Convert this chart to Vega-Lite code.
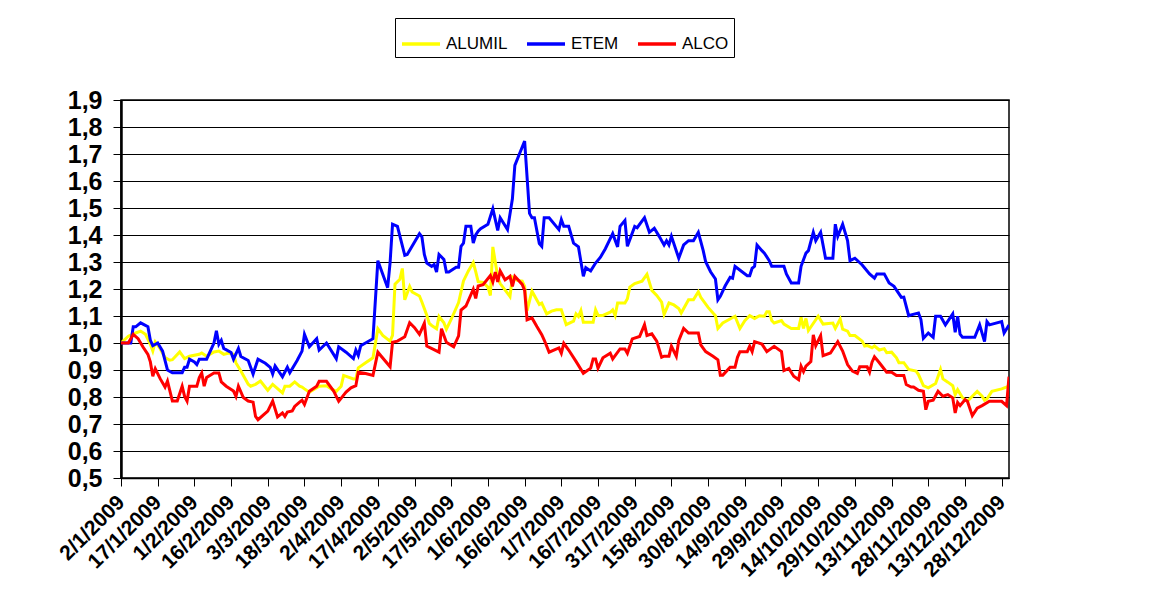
{
  "$schema": "https://vega.github.io/schema/vega-lite/v6.json",
  "width": 888,
  "height": 378,
  "autosize": {"type": "none"},
  "padding": {"left": 121, "top": 100, "right": 143, "bottom": 131},
  "background": "white",
  "config": {
    "font": "Liberation Sans",
    "view": {"stroke": "black", "strokeWidth": 1.5},
    "axis": {"labelColor": "black", "tickColor": "black", "domainColor": "black", "titleColor": "black"}
  },
  "data": {
    "format": {"parse": {"date": "utc:'%Y-%j'"}},
    "values": [
      {"series":"ALUMIL","date":"2009-002","value":1.0},{"series":"ALUMIL","date":"2009-005","value":1.025},{"series":"ALUMIL","date":"2009-008","value":1.037},{"series":"ALUMIL","date":"2009-010","value":1.044},{"series":"ALUMIL","date":"2009-012","value":1.032},{"series":"ALUMIL","date":"2009-014","value":0.995},{"series":"ALUMIL","date":"2009-015","value":0.97},{"series":"ALUMIL","date":"2009-016","value":1.004},{"series":"ALUMIL","date":"2009-018","value":0.979},{"series":"ALUMIL","date":"2009-020","value":0.946},{"series":"ALUMIL","date":"2009-022","value":0.936},{"series":"ALUMIL","date":"2009-023","value":0.938},{"series":"ALUMIL","date":"2009-026","value":0.967},{"series":"ALUMIL","date":"2009-028","value":0.942},{"series":"ALUMIL","date":"2009-030","value":0.951},{"series":"ALUMIL","date":"2009-034","value":0.958},{"series":"ALUMIL","date":"2009-035","value":0.963},{"series":"ALUMIL","date":"2009-037","value":0.951},{"series":"ALUMIL","date":"2009-040","value":0.967},{"series":"ALUMIL","date":"2009-042","value":0.97},{"series":"ALUMIL","date":"2009-044","value":0.958},{"series":"ALUMIL","date":"2009-046","value":0.963},{"series":"ALUMIL","date":"2009-048","value":0.958},{"series":"ALUMIL","date":"2009-049","value":0.926},{"series":"ALUMIL","date":"2009-051","value":0.896},{"series":"ALUMIL","date":"2009-054","value":0.847},{"series":"ALUMIL","date":"2009-055","value":0.84},{"series":"ALUMIL","date":"2009-057","value":0.847},{"series":"ALUMIL","date":"2009-059","value":0.859},{"series":"ALUMIL","date":"2009-062","value":0.825},{"series":"ALUMIL","date":"2009-064","value":0.847},{"series":"ALUMIL","date":"2009-066","value":0.831},{"series":"ALUMIL","date":"2009-068","value":0.815},{"series":"ALUMIL","date":"2009-069","value":0.84},{"series":"ALUMIL","date":"2009-071","value":0.84},{"series":"ALUMIL","date":"2009-073","value":0.856},{"series":"ALUMIL","date":"2009-075","value":0.84},{"series":"ALUMIL","date":"2009-076","value":0.837},{"series":"ALUMIL","date":"2009-077","value":0.83},{"series":"ALUMIL","date":"2009-079","value":0.818},{"series":"ALUMIL","date":"2009-083","value":0.84},{"series":"ALUMIL","date":"2009-086","value":0.842},{"series":"ALUMIL","date":"2009-088","value":0.83},{"series":"ALUMIL","date":"2009-090","value":0.821},{"series":"ALUMIL","date":"2009-092","value":0.84},{"series":"ALUMIL","date":"2009-093","value":0.88},{"series":"ALUMIL","date":"2009-097","value":0.867},{"series":"ALUMIL","date":"2009-098","value":0.867},{"series":"ALUMIL","date":"2009-099","value":0.908},{"series":"ALUMIL","date":"2009-102","value":0.927},{"series":"ALUMIL","date":"2009-105","value":0.945},{"series":"ALUMIL","date":"2009-107","value":1.053},{"series":"ALUMIL","date":"2009-109","value":1.028},{"series":"ALUMIL","date":"2009-112","value":1.007},{"series":"ALUMIL","date":"2009-113","value":1.028},{"series":"ALUMIL","date":"2009-114","value":1.218},{"series":"ALUMIL","date":"2009-116","value":1.236},{"series":"ALUMIL","date":"2009-117","value":1.276},{"series":"ALUMIL","date":"2009-118","value":1.16},{"series":"ALUMIL","date":"2009-120","value":1.209},{"series":"ALUMIL","date":"2009-121","value":1.189},{"series":"ALUMIL","date":"2009-124","value":1.174},{"series":"ALUMIL","date":"2009-125","value":1.152},{"series":"ALUMIL","date":"2009-127","value":1.103},{"series":"ALUMIL","date":"2009-128","value":1.073},{"series":"ALUMIL","date":"2009-129","value":1.065},{"series":"ALUMIL","date":"2009-131","value":1.053},{"series":"ALUMIL","date":"2009-132","value":1.098},{"series":"ALUMIL","date":"2009-134","value":1.075},{"series":"ALUMIL","date":"2009-135","value":1.051},{"series":"ALUMIL","date":"2009-137","value":1.088},{"series":"ALUMIL","date":"2009-140","value":1.15},{"series":"ALUMIL","date":"2009-142","value":1.23},{"series":"ALUMIL","date":"2009-144","value":1.267},{"series":"ALUMIL","date":"2009-146","value":1.298},{"series":"ALUMIL","date":"2009-147","value":1.264},{"series":"ALUMIL","date":"2009-148","value":1.227},{"series":"ALUMIL","date":"2009-150","value":1.224},{"series":"ALUMIL","date":"2009-152","value":1.207},{"series":"ALUMIL","date":"2009-153","value":1.176},{"series":"ALUMIL","date":"2009-154","value":1.356},{"series":"ALUMIL","date":"2009-156","value":1.244},{"series":"ALUMIL","date":"2009-157","value":1.22},{"series":"ALUMIL","date":"2009-161","value":1.172},{"series":"ALUMIL","date":"2009-162","value":1.244},{"series":"ALUMIL","date":"2009-164","value":1.232},{"series":"ALUMIL","date":"2009-166","value":1.229},{"series":"ALUMIL","date":"2009-167","value":1.21},{"series":"ALUMIL","date":"2009-168","value":1.12},{"series":"ALUMIL","date":"2009-170","value":1.192},{"series":"ALUMIL","date":"2009-173","value":1.143},{"series":"ALUMIL","date":"2009-174","value":1.148},{"series":"ALUMIL","date":"2009-176","value":1.108},{"series":"ALUMIL","date":"2009-178","value":1.118},{"series":"ALUMIL","date":"2009-180","value":1.123},{"series":"ALUMIL","date":"2009-182","value":1.123},{"series":"ALUMIL","date":"2009-184","value":1.068},{"series":"ALUMIL","date":"2009-187","value":1.081},{"series":"ALUMIL","date":"2009-188","value":1.108},{"series":"ALUMIL","date":"2009-189","value":1.098},{"series":"ALUMIL","date":"2009-190","value":1.12},{"series":"ALUMIL","date":"2009-191","value":1.077},{"series":"ALUMIL","date":"2009-195","value":1.077},{"series":"ALUMIL","date":"2009-196","value":1.123},{"series":"ALUMIL","date":"2009-197","value":1.102},{"series":"ALUMIL","date":"2009-199","value":1.102},{"series":"ALUMIL","date":"2009-202","value":1.114},{"series":"ALUMIL","date":"2009-203","value":1.123},{"series":"ALUMIL","date":"2009-204","value":1.102},{"series":"ALUMIL","date":"2009-205","value":1.148},{"series":"ALUMIL","date":"2009-208","value":1.148},{"series":"ALUMIL","date":"2009-209","value":1.164},{"series":"ALUMIL","date":"2009-210","value":1.207},{"series":"ALUMIL","date":"2009-212","value":1.22},{"series":"ALUMIL","date":"2009-215","value":1.229},{"series":"ALUMIL","date":"2009-217","value":1.254},{"series":"ALUMIL","date":"2009-219","value":1.195},{"series":"ALUMIL","date":"2009-221","value":1.176},{"series":"ALUMIL","date":"2009-223","value":1.151},{"series":"ALUMIL","date":"2009-224","value":1.106},{"series":"ALUMIL","date":"2009-226","value":1.148},{"series":"ALUMIL","date":"2009-228","value":1.141},{"series":"ALUMIL","date":"2009-230","value":1.128},{"series":"ALUMIL","date":"2009-231","value":1.111},{"series":"ALUMIL","date":"2009-234","value":1.16},{"series":"ALUMIL","date":"2009-236","value":1.16},{"series":"ALUMIL","date":"2009-238","value":1.19},{"series":"ALUMIL","date":"2009-239","value":1.169},{"series":"ALUMIL","date":"2009-242","value":1.132},{"series":"ALUMIL","date":"2009-244","value":1.111},{"series":"ALUMIL","date":"2009-245","value":1.101},{"series":"ALUMIL","date":"2009-246","value":1.054},{"series":"ALUMIL","date":"2009-248","value":1.074},{"series":"ALUMIL","date":"2009-253","value":1.099},{"series":"ALUMIL","date":"2009-255","value":1.054},{"series":"ALUMIL","date":"2009-257","value":1.083},{"series":"ALUMIL","date":"2009-259","value":1.101},{"series":"ALUMIL","date":"2009-261","value":1.091},{"series":"ALUMIL","date":"2009-263","value":1.101},{"series":"ALUMIL","date":"2009-265","value":1.099},{"series":"ALUMIL","date":"2009-266","value":1.116},{"series":"ALUMIL","date":"2009-267","value":1.116},{"series":"ALUMIL","date":"2009-268","value":1.083},{"series":"ALUMIL","date":"2009-269","value":1.074},{"series":"ALUMIL","date":"2009-272","value":1.083},{"series":"ALUMIL","date":"2009-273","value":1.07},{"series":"ALUMIL","date":"2009-276","value":1.054},{"series":"ALUMIL","date":"2009-279","value":1.054},{"series":"ALUMIL","date":"2009-280","value":1.095},{"series":"ALUMIL","date":"2009-281","value":1.054},{"series":"ALUMIL","date":"2009-282","value":1.091},{"series":"ALUMIL","date":"2009-283","value":1.046},{"series":"ALUMIL","date":"2009-287","value":1.099},{"series":"ALUMIL","date":"2009-289","value":1.07},{"series":"ALUMIL","date":"2009-293","value":1.074},{"series":"ALUMIL","date":"2009-294","value":1.054},{"series":"ALUMIL","date":"2009-296","value":1.089},{"series":"ALUMIL","date":"2009-297","value":1.051},{"series":"ALUMIL","date":"2009-299","value":1.044},{"series":"ALUMIL","date":"2009-300","value":1.028},{"series":"ALUMIL","date":"2009-302","value":1.028},{"series":"ALUMIL","date":"2009-305","value":1.007},{"series":"ALUMIL","date":"2009-306","value":0.989},{"series":"ALUMIL","date":"2009-307","value":0.991},{"series":"ALUMIL","date":"2009-309","value":0.982},{"series":"ALUMIL","date":"2009-310","value":0.989},{"series":"ALUMIL","date":"2009-312","value":0.974},{"series":"ALUMIL","date":"2009-314","value":0.979},{"series":"ALUMIL","date":"2009-315","value":0.964},{"series":"ALUMIL","date":"2009-317","value":0.966},{"series":"ALUMIL","date":"2009-319","value":0.945},{"series":"ALUMIL","date":"2009-320","value":0.927},{"series":"ALUMIL","date":"2009-322","value":0.927},{"series":"ALUMIL","date":"2009-324","value":0.902},{"series":"ALUMIL","date":"2009-327","value":0.896},{"series":"ALUMIL","date":"2009-328","value":0.883},{"series":"ALUMIL","date":"2009-330","value":0.842},{"series":"ALUMIL","date":"2009-332","value":0.834},{"series":"ALUMIL","date":"2009-335","value":0.85},{"series":"ALUMIL","date":"2009-337","value":0.902},{"series":"ALUMIL","date":"2009-338","value":0.867},{"series":"ALUMIL","date":"2009-340","value":0.855},{"series":"ALUMIL","date":"2009-342","value":0.842},{"series":"ALUMIL","date":"2009-343","value":0.809},{"series":"ALUMIL","date":"2009-344","value":0.827},{"series":"ALUMIL","date":"2009-346","value":0.797},{"series":"ALUMIL","date":"2009-348","value":0.784},{"series":"ALUMIL","date":"2009-350","value":0.803},{"series":"ALUMIL","date":"2009-352","value":0.821},{"series":"ALUMIL","date":"2009-354","value":0.803},{"series":"ALUMIL","date":"2009-355","value":0.788},{"series":"ALUMIL","date":"2009-356","value":0.793},{"series":"ALUMIL","date":"2009-358","value":0.821},{"series":"ALUMIL","date":"2009-362","value":0.83},{"series":"ALUMIL","date":"2009-365","value":0.84},
      {"series":"ETEM","date":"2009-002","value":1.0},{"series":"ETEM","date":"2009-006","value":1.0},{"series":"ETEM","date":"2009-007","value":1.06},{"series":"ETEM","date":"2009-008","value":1.06},{"series":"ETEM","date":"2009-010","value":1.075},{"series":"ETEM","date":"2009-011","value":1.07},{"series":"ETEM","date":"2009-013","value":1.06},{"series":"ETEM","date":"2009-014","value":1.01},{"series":"ETEM","date":"2009-015","value":0.99},{"series":"ETEM","date":"2009-017","value":1.0},{"series":"ETEM","date":"2009-019","value":0.97},{"series":"ETEM","date":"2009-021","value":0.9},{"series":"ETEM","date":"2009-023","value":0.89},{"series":"ETEM","date":"2009-027","value":0.89},{"series":"ETEM","date":"2009-028","value":0.91},{"series":"ETEM","date":"2009-029","value":0.91},{"series":"ETEM","date":"2009-030","value":0.94},{"series":"ETEM","date":"2009-032","value":0.93},{"series":"ETEM","date":"2009-033","value":0.92},{"series":"ETEM","date":"2009-034","value":0.94},{"series":"ETEM","date":"2009-037","value":0.94},{"series":"ETEM","date":"2009-040","value":1.0},{"series":"ETEM","date":"2009-041","value":1.045},{"series":"ETEM","date":"2009-042","value":0.995},{"series":"ETEM","date":"2009-043","value":1.01},{"series":"ETEM","date":"2009-044","value":0.98},{"series":"ETEM","date":"2009-047","value":0.965},{"series":"ETEM","date":"2009-048","value":0.94},{"series":"ETEM","date":"2009-050","value":0.98},{"series":"ETEM","date":"2009-051","value":0.95},{"series":"ETEM","date":"2009-054","value":0.935},{"series":"ETEM","date":"2009-056","value":0.885},{"series":"ETEM","date":"2009-058","value":0.94},{"series":"ETEM","date":"2009-061","value":0.925},{"series":"ETEM","date":"2009-063","value":0.91},{"series":"ETEM","date":"2009-064","value":0.885},{"series":"ETEM","date":"2009-065","value":0.915},{"series":"ETEM","date":"2009-068","value":0.875},{"series":"ETEM","date":"2009-070","value":0.91},{"series":"ETEM","date":"2009-071","value":0.89},{"series":"ETEM","date":"2009-074","value":0.935},{"series":"ETEM","date":"2009-076","value":0.97},{"series":"ETEM","date":"2009-077","value":1.032},{"series":"ETEM","date":"2009-079","value":0.986},{"series":"ETEM","date":"2009-082","value":1.016},{"series":"ETEM","date":"2009-083","value":0.974},{"series":"ETEM","date":"2009-086","value":1.0},{"series":"ETEM","date":"2009-090","value":0.942},{"series":"ETEM","date":"2009-091","value":0.986},{"series":"ETEM","date":"2009-094","value":0.966},{"series":"ETEM","date":"2009-097","value":0.942},{"series":"ETEM","date":"2009-098","value":0.974},{"series":"ETEM","date":"2009-099","value":0.954},{"series":"ETEM","date":"2009-100","value":0.99},{"series":"ETEM","date":"2009-105","value":1.016},{"series":"ETEM","date":"2009-107","value":1.305},{"series":"ETEM","date":"2009-111","value":1.205},{"series":"ETEM","date":"2009-112","value":1.298},{"series":"ETEM","date":"2009-113","value":1.44},{"series":"ETEM","date":"2009-115","value":1.432},{"series":"ETEM","date":"2009-118","value":1.325},{"series":"ETEM","date":"2009-119","value":1.328},{"series":"ETEM","date":"2009-124","value":1.405},{"series":"ETEM","date":"2009-125","value":1.393},{"series":"ETEM","date":"2009-126","value":1.328},{"series":"ETEM","date":"2009-127","value":1.296},{"series":"ETEM","date":"2009-129","value":1.284},{"series":"ETEM","date":"2009-130","value":1.291},{"series":"ETEM","date":"2009-131","value":1.263},{"series":"ETEM","date":"2009-132","value":1.328},{"series":"ETEM","date":"2009-134","value":1.309},{"series":"ETEM","date":"2009-135","value":1.263},{"series":"ETEM","date":"2009-136","value":1.263},{"series":"ETEM","date":"2009-139","value":1.281},{"series":"ETEM","date":"2009-140","value":1.281},{"series":"ETEM","date":"2009-141","value":1.358},{"series":"ETEM","date":"2009-142","value":1.37},{"series":"ETEM","date":"2009-143","value":1.432},{"series":"ETEM","date":"2009-145","value":1.432},{"series":"ETEM","date":"2009-146","value":1.37},{"series":"ETEM","date":"2009-147","value":1.4},{"series":"ETEM","date":"2009-148","value":1.414},{"series":"ETEM","date":"2009-149","value":1.423},{"series":"ETEM","date":"2009-152","value":1.44},{"series":"ETEM","date":"2009-154","value":1.497},{"series":"ETEM","date":"2009-156","value":1.417},{"series":"ETEM","date":"2009-157","value":1.464},{"series":"ETEM","date":"2009-160","value":1.42},{"series":"ETEM","date":"2009-162","value":1.534},{"series":"ETEM","date":"2009-163","value":1.658},{"series":"ETEM","date":"2009-167","value":1.748},{"series":"ETEM","date":"2009-169","value":1.48},{"series":"ETEM","date":"2009-170","value":1.464},{"series":"ETEM","date":"2009-171","value":1.464},{"series":"ETEM","date":"2009-173","value":1.368},{"series":"ETEM","date":"2009-174","value":1.358},{"series":"ETEM","date":"2009-175","value":1.464},{"series":"ETEM","date":"2009-177","value":1.464},{"series":"ETEM","date":"2009-181","value":1.42},{"series":"ETEM","date":"2009-182","value":1.457},{"series":"ETEM","date":"2009-183","value":1.432},{"series":"ETEM","date":"2009-185","value":1.432},{"series":"ETEM","date":"2009-187","value":1.37},{"series":"ETEM","date":"2009-189","value":1.356},{"series":"ETEM","date":"2009-191","value":1.247},{"series":"ETEM","date":"2009-192","value":1.279},{"series":"ETEM","date":"2009-194","value":1.267},{"series":"ETEM","date":"2009-196","value":1.296},{"series":"ETEM","date":"2009-198","value":1.318},{"series":"ETEM","date":"2009-200","value":1.349},{"series":"ETEM","date":"2009-203","value":1.405},{"series":"ETEM","date":"2009-205","value":1.356},{"series":"ETEM","date":"2009-206","value":1.432},{"series":"ETEM","date":"2009-208","value":1.454},{"series":"ETEM","date":"2009-209","value":1.358},{"series":"ETEM","date":"2009-212","value":1.432},{"series":"ETEM","date":"2009-213","value":1.427},{"series":"ETEM","date":"2009-216","value":1.464},{"series":"ETEM","date":"2009-218","value":1.41},{"series":"ETEM","date":"2009-220","value":1.425},{"series":"ETEM","date":"2009-222","value":1.395},{"series":"ETEM","date":"2009-224","value":1.363},{"series":"ETEM","date":"2009-225","value":1.379},{"series":"ETEM","date":"2009-226","value":1.363},{"series":"ETEM","date":"2009-227","value":1.395},{"series":"ETEM","date":"2009-230","value":1.314},{"series":"ETEM","date":"2009-232","value":1.363},{"series":"ETEM","date":"2009-234","value":1.379},{"series":"ETEM","date":"2009-236","value":1.379},{"series":"ETEM","date":"2009-238","value":1.41},{"series":"ETEM","date":"2009-240","value":1.342},{"series":"ETEM","date":"2009-241","value":1.301},{"series":"ETEM","date":"2009-243","value":1.264},{"series":"ETEM","date":"2009-245","value":1.237},{"series":"ETEM","date":"2009-246","value":1.16},{"series":"ETEM","date":"2009-247","value":1.173},{"series":"ETEM","date":"2009-249","value":1.212},{"series":"ETEM","date":"2009-251","value":1.243},{"series":"ETEM","date":"2009-252","value":1.24},{"series":"ETEM","date":"2009-253","value":1.284},{"series":"ETEM","date":"2009-254","value":1.277},{"series":"ETEM","date":"2009-258","value":1.249},{"series":"ETEM","date":"2009-259","value":1.249},{"series":"ETEM","date":"2009-260","value":1.277},{"series":"ETEM","date":"2009-261","value":1.284},{"series":"ETEM","date":"2009-262","value":1.363},{"series":"ETEM","date":"2009-264","value":1.342},{"series":"ETEM","date":"2009-265","value":1.333},{"series":"ETEM","date":"2009-267","value":1.305},{"series":"ETEM","date":"2009-268","value":1.284},{"series":"ETEM","date":"2009-273","value":1.284},{"series":"ETEM","date":"2009-274","value":1.256},{"series":"ETEM","date":"2009-276","value":1.222},{"series":"ETEM","date":"2009-279","value":1.222},{"series":"ETEM","date":"2009-280","value":1.284},{"series":"ETEM","date":"2009-282","value":1.333},{"series":"ETEM","date":"2009-283","value":1.342},{"series":"ETEM","date":"2009-285","value":1.41},{"series":"ETEM","date":"2009-286","value":1.379},{"series":"ETEM","date":"2009-288","value":1.41},{"series":"ETEM","date":"2009-290","value":1.314},{"series":"ETEM","date":"2009-293","value":1.314},{"series":"ETEM","date":"2009-294","value":1.44},{"series":"ETEM","date":"2009-295","value":1.395},{"series":"ETEM","date":"2009-297","value":1.44},{"series":"ETEM","date":"2009-299","value":1.379},{"series":"ETEM","date":"2009-300","value":1.305},{"series":"ETEM","date":"2009-302","value":1.314},{"series":"ETEM","date":"2009-305","value":1.289},{"series":"ETEM","date":"2009-308","value":1.256},{"series":"ETEM","date":"2009-310","value":1.24},{"series":"ETEM","date":"2009-311","value":1.256},{"series":"ETEM","date":"2009-314","value":1.256},{"series":"ETEM","date":"2009-316","value":1.222},{"series":"ETEM","date":"2009-318","value":1.21},{"series":"ETEM","date":"2009-321","value":1.169},{"series":"ETEM","date":"2009-322","value":1.17},{"series":"ETEM","date":"2009-324","value":1.101},{"series":"ETEM","date":"2009-325","value":1.104},{"series":"ETEM","date":"2009-328","value":1.111},{"series":"ETEM","date":"2009-329","value":1.087},{"series":"ETEM","date":"2009-330","value":1.017},{"series":"ETEM","date":"2009-332","value":1.037},{"series":"ETEM","date":"2009-334","value":1.021},{"series":"ETEM","date":"2009-335","value":1.099},{"series":"ETEM","date":"2009-337","value":1.099},{"series":"ETEM","date":"2009-339","value":1.067},{"series":"ETEM","date":"2009-342","value":1.108},{"series":"ETEM","date":"2009-343","value":1.04},{"series":"ETEM","date":"2009-344","value":1.099},{"series":"ETEM","date":"2009-345","value":1.033},{"series":"ETEM","date":"2009-346","value":1.021},{"series":"ETEM","date":"2009-351","value":1.021},{"series":"ETEM","date":"2009-353","value":1.067},{"series":"ETEM","date":"2009-355","value":1.005},{"series":"ETEM","date":"2009-356","value":1.079},{"series":"ETEM","date":"2009-357","value":1.067},{"series":"ETEM","date":"2009-362","value":1.079},{"series":"ETEM","date":"2009-363","value":1.037},{"series":"ETEM","date":"2009-365","value":1.067},
      {"series":"ALCO","date":"2009-002","value":1.0},{"series":"ALCO","date":"2009-005","value":1.0},{"series":"ALCO","date":"2009-007","value":1.032},{"series":"ALCO","date":"2009-009","value":1.016},{"series":"ALCO","date":"2009-011","value":0.985},{"series":"ALCO","date":"2009-013","value":0.958},{"series":"ALCO","date":"2009-014","value":0.93},{"series":"ALCO","date":"2009-015","value":0.877},{"series":"ALCO","date":"2009-016","value":0.905},{"series":"ALCO","date":"2009-018","value":0.868},{"series":"ALCO","date":"2009-020","value":0.837},{"series":"ALCO","date":"2009-021","value":0.859},{"series":"ALCO","date":"2009-023","value":0.785},{"series":"ALCO","date":"2009-025","value":0.785},{"series":"ALCO","date":"2009-027","value":0.84},{"series":"ALCO","date":"2009-028","value":0.802},{"series":"ALCO","date":"2009-029","value":0.785},{"series":"ALCO","date":"2009-030","value":0.84},{"series":"ALCO","date":"2009-033","value":0.84},{"series":"ALCO","date":"2009-034","value":0.872},{"series":"ALCO","date":"2009-035","value":0.889},{"series":"ALCO","date":"2009-036","value":0.84},{"series":"ALCO","date":"2009-037","value":0.872},{"series":"ALCO","date":"2009-040","value":0.889},{"series":"ALCO","date":"2009-042","value":0.889},{"series":"ALCO","date":"2009-043","value":0.856},{"series":"ALCO","date":"2009-045","value":0.84},{"series":"ALCO","date":"2009-048","value":0.822},{"series":"ALCO","date":"2009-049","value":0.802},{"series":"ALCO","date":"2009-050","value":0.84},{"series":"ALCO","date":"2009-052","value":0.798},{"series":"ALCO","date":"2009-054","value":0.785},{"series":"ALCO","date":"2009-056","value":0.781},{"series":"ALCO","date":"2009-057","value":0.728},{"series":"ALCO","date":"2009-058","value":0.716},{"series":"ALCO","date":"2009-062","value":0.748},{"series":"ALCO","date":"2009-064","value":0.785},{"series":"ALCO","date":"2009-066","value":0.726},{"series":"ALCO","date":"2009-068","value":0.741},{"series":"ALCO","date":"2009-069","value":0.728},{"series":"ALCO","date":"2009-070","value":0.744},{"series":"ALCO","date":"2009-072","value":0.748},{"series":"ALCO","date":"2009-073","value":0.765},{"series":"ALCO","date":"2009-075","value":0.781},{"series":"ALCO","date":"2009-076","value":0.788},{"series":"ALCO","date":"2009-077","value":0.772},{"series":"ALCO","date":"2009-079","value":0.821},{"series":"ALCO","date":"2009-082","value":0.84},{"series":"ALCO","date":"2009-083","value":0.858},{"series":"ALCO","date":"2009-086","value":0.858},{"series":"ALCO","date":"2009-089","value":0.821},{"series":"ALCO","date":"2009-091","value":0.784},{"series":"ALCO","date":"2009-094","value":0.818},{"series":"ALCO","date":"2009-096","value":0.834},{"series":"ALCO","date":"2009-098","value":0.842},{"series":"ALCO","date":"2009-099","value":0.892},{"series":"ALCO","date":"2009-102","value":0.887},{"series":"ALCO","date":"2009-105","value":0.88},{"series":"ALCO","date":"2009-107","value":0.966},{"series":"ALCO","date":"2009-112","value":0.912},{"series":"ALCO","date":"2009-113","value":1.003},{"series":"ALCO","date":"2009-115","value":1.007},{"series":"ALCO","date":"2009-118","value":1.023},{"series":"ALCO","date":"2009-120","value":1.075},{"series":"ALCO","date":"2009-122","value":1.057},{"series":"ALCO","date":"2009-124","value":1.032},{"series":"ALCO","date":"2009-126","value":1.073},{"series":"ALCO","date":"2009-127","value":0.989},{"series":"ALCO","date":"2009-132","value":0.966},{"series":"ALCO","date":"2009-133","value":1.053},{"series":"ALCO","date":"2009-134","value":1.028},{"series":"ALCO","date":"2009-135","value":1.003},{"series":"ALCO","date":"2009-138","value":0.986},{"series":"ALCO","date":"2009-140","value":1.026},{"series":"ALCO","date":"2009-141","value":1.122},{"series":"ALCO","date":"2009-143","value":1.137},{"series":"ALCO","date":"2009-146","value":1.199},{"series":"ALCO","date":"2009-147","value":1.165},{"series":"ALCO","date":"2009-148","value":1.211},{"series":"ALCO","date":"2009-150","value":1.216},{"series":"ALCO","date":"2009-153","value":1.25},{"series":"ALCO","date":"2009-154","value":1.226},{"series":"ALCO","date":"2009-155","value":1.263},{"series":"ALCO","date":"2009-156","value":1.226},{"series":"ALCO","date":"2009-157","value":1.267},{"series":"ALCO","date":"2009-159","value":1.234},{"series":"ALCO","date":"2009-161","value":1.247},{"series":"ALCO","date":"2009-162","value":1.21},{"series":"ALCO","date":"2009-163","value":1.247},{"series":"ALCO","date":"2009-166","value":1.217},{"series":"ALCO","date":"2009-167","value":1.195},{"series":"ALCO","date":"2009-168","value":1.086},{"series":"ALCO","date":"2009-170","value":1.093},{"series":"ALCO","date":"2009-172","value":1.061},{"series":"ALCO","date":"2009-174","value":1.031},{"series":"ALCO","date":"2009-175","value":1.011},{"series":"ALCO","date":"2009-177","value":0.966},{"series":"ALCO","date":"2009-181","value":0.982},{"series":"ALCO","date":"2009-182","value":0.962},{"series":"ALCO","date":"2009-183","value":0.999},{"series":"ALCO","date":"2009-185","value":0.974},{"series":"ALCO","date":"2009-188","value":0.932},{"series":"ALCO","date":"2009-191","value":0.888},{"series":"ALCO","date":"2009-194","value":0.907},{"series":"ALCO","date":"2009-195","value":0.941},{"series":"ALCO","date":"2009-196","value":0.941},{"series":"ALCO","date":"2009-197","value":0.907},{"series":"ALCO","date":"2009-199","value":0.945},{"series":"ALCO","date":"2009-202","value":0.962},{"series":"ALCO","date":"2009-203","value":0.941},{"series":"ALCO","date":"2009-206","value":0.978},{"series":"ALCO","date":"2009-208","value":0.978},{"series":"ALCO","date":"2009-209","value":0.962},{"series":"ALCO","date":"2009-211","value":1.015},{"series":"ALCO","date":"2009-214","value":1.024},{"series":"ALCO","date":"2009-216","value":1.068},{"series":"ALCO","date":"2009-217","value":1.028},{"series":"ALCO","date":"2009-219","value":1.034},{"series":"ALCO","date":"2009-221","value":1.007},{"series":"ALCO","date":"2009-223","value":0.947},{"series":"ALCO","date":"2009-224","value":0.951},{"series":"ALCO","date":"2009-226","value":0.951},{"series":"ALCO","date":"2009-227","value":0.988},{"series":"ALCO","date":"2009-229","value":0.951},{"series":"ALCO","date":"2009-230","value":1.009},{"series":"ALCO","date":"2009-232","value":1.054},{"series":"ALCO","date":"2009-234","value":1.037},{"series":"ALCO","date":"2009-238","value":1.037},{"series":"ALCO","date":"2009-239","value":0.993},{"series":"ALCO","date":"2009-241","value":0.968},{"series":"ALCO","date":"2009-244","value":0.951},{"series":"ALCO","date":"2009-246","value":0.938},{"series":"ALCO","date":"2009-247","value":0.881},{"series":"ALCO","date":"2009-248","value":0.881},{"series":"ALCO","date":"2009-251","value":0.91},{"series":"ALCO","date":"2009-253","value":0.91},{"series":"ALCO","date":"2009-254","value":0.947},{"series":"ALCO","date":"2009-255","value":0.968},{"series":"ALCO","date":"2009-258","value":0.968},{"series":"ALCO","date":"2009-259","value":0.988},{"series":"ALCO","date":"2009-260","value":0.968},{"series":"ALCO","date":"2009-261","value":1.005},{"series":"ALCO","date":"2009-264","value":0.996},{"series":"ALCO","date":"2009-266","value":0.968},{"series":"ALCO","date":"2009-269","value":0.988},{"series":"ALCO","date":"2009-272","value":0.968},{"series":"ALCO","date":"2009-273","value":0.898},{"series":"ALCO","date":"2009-275","value":0.906},{"series":"ALCO","date":"2009-277","value":0.877},{"series":"ALCO","date":"2009-279","value":0.864},{"series":"ALCO","date":"2009-280","value":0.914},{"series":"ALCO","date":"2009-281","value":0.894},{"series":"ALCO","date":"2009-282","value":0.914},{"series":"ALCO","date":"2009-284","value":0.931},{"series":"ALCO","date":"2009-285","value":1.03},{"series":"ALCO","date":"2009-286","value":0.99},{"series":"ALCO","date":"2009-288","value":1.027},{"series":"ALCO","date":"2009-289","value":0.953},{"series":"ALCO","date":"2009-292","value":0.963},{"series":"ALCO","date":"2009-295","value":1.005},{"series":"ALCO","date":"2009-297","value":0.97},{"series":"ALCO","date":"2009-299","value":0.92},{"series":"ALCO","date":"2009-301","value":0.896},{"series":"ALCO","date":"2009-303","value":0.887},{"series":"ALCO","date":"2009-304","value":0.912},{"series":"ALCO","date":"2009-307","value":0.912},{"series":"ALCO","date":"2009-308","value":0.892},{"series":"ALCO","date":"2009-309","value":0.929},{"series":"ALCO","date":"2009-310","value":0.949},{"series":"ALCO","date":"2009-312","value":0.927},{"series":"ALCO","date":"2009-315","value":0.892},{"series":"ALCO","date":"2009-317","value":0.892},{"series":"ALCO","date":"2009-319","value":0.88},{"series":"ALCO","date":"2009-322","value":0.88},{"series":"ALCO","date":"2009-323","value":0.846},{"series":"ALCO","date":"2009-325","value":0.837},{"series":"ALCO","date":"2009-326","value":0.837},{"series":"ALCO","date":"2009-328","value":0.825},{"series":"ALCO","date":"2009-330","value":0.821},{"series":"ALCO","date":"2009-331","value":0.753},{"series":"ALCO","date":"2009-332","value":0.784},{"series":"ALCO","date":"2009-334","value":0.788},{"series":"ALCO","date":"2009-336","value":0.821},{"series":"ALCO","date":"2009-338","value":0.803},{"series":"ALCO","date":"2009-340","value":0.809},{"series":"ALCO","date":"2009-342","value":0.797},{"series":"ALCO","date":"2009-343","value":0.741},{"series":"ALCO","date":"2009-344","value":0.78},{"series":"ALCO","date":"2009-345","value":0.768},{"series":"ALCO","date":"2009-347","value":0.79},{"series":"ALCO","date":"2009-348","value":0.784},{"series":"ALCO","date":"2009-350","value":0.731},{"series":"ALCO","date":"2009-352","value":0.759},{"series":"ALCO","date":"2009-354","value":0.768},{"series":"ALCO","date":"2009-357","value":0.784},{"series":"ALCO","date":"2009-362","value":0.784},{"series":"ALCO","date":"2009-364","value":0.768},{"series":"ALCO","date":"2009-365","value":0.875}
    ]
  },
  "encoding": {
    "x": {
      "field": "date", "type": "temporal", "title": null,
      "scale": {"type": "utc", "domain": [{"year": 2009, "month": 1, "date": 2, "utc": true}, {"year": 2009, "month": 12, "date": 31, "utc": true}]},
      "axis": {
        "values": [
          {"year": 2009, "month": 1, "date": 2, "utc": true}, {"year": 2009, "month": 1, "date": 17, "utc": true},
          {"year": 2009, "month": 2, "date": 1, "utc": true}, {"year": 2009, "month": 2, "date": 16, "utc": true},
          {"year": 2009, "month": 3, "date": 3, "utc": true}, {"year": 2009, "month": 3, "date": 18, "utc": true},
          {"year": 2009, "month": 4, "date": 2, "utc": true}, {"year": 2009, "month": 4, "date": 17, "utc": true},
          {"year": 2009, "month": 5, "date": 2, "utc": true}, {"year": 2009, "month": 5, "date": 17, "utc": true},
          {"year": 2009, "month": 6, "date": 1, "utc": true}, {"year": 2009, "month": 6, "date": 16, "utc": true},
          {"year": 2009, "month": 7, "date": 1, "utc": true}, {"year": 2009, "month": 7, "date": 16, "utc": true},
          {"year": 2009, "month": 7, "date": 31, "utc": true}, {"year": 2009, "month": 8, "date": 15, "utc": true},
          {"year": 2009, "month": 8, "date": 30, "utc": true}, {"year": 2009, "month": 9, "date": 14, "utc": true},
          {"year": 2009, "month": 9, "date": 29, "utc": true}, {"year": 2009, "month": 10, "date": 14, "utc": true},
          {"year": 2009, "month": 10, "date": 29, "utc": true}, {"year": 2009, "month": 11, "date": 13, "utc": true},
          {"year": 2009, "month": 11, "date": 28, "utc": true}, {"year": 2009, "month": 12, "date": 13, "utc": true},
          {"year": 2009, "month": 12, "date": 28, "utc": true}
        ],
        "labelExpr": "utcFormat(datum.value, '%-d/%-m/%Y')",
        "labelAngle": -45, "labelAlign": "right", "labelBaseline": "middle",
        "labelFontSize": 21, "labelFontWeight": "bold",
        "labelPadding": 13, "tickSize": 8, "tickWidth": 1, "domainWidth": 1.5,
        "grid": false, "labelOverlap": false, "labelBound": false, "labelFlush": false
      }
    },
    "y": {
      "field": "value", "type": "quantitative", "title": null,
      "scale": {"domain": [0.5, 1.9], "nice": false, "zero": false},
      "axis": {
        "values": [0.5, 0.6, 0.7, 0.8, 0.9, 1.0, 1.1, 1.2, 1.3, 1.4, 1.5, 1.6, 1.7, 1.8, 1.9],
        "labelExpr": "replace(format(datum.value, '.1f'), '.', ',')",
        "labelFontSize": 25, "labelFontWeight": "bold", "labelPadding": 11,
        "tickSize": 8, "tickWidth": 1, "domainWidth": 2.5,
        "grid": true, "gridColor": "black", "gridWidth": 1, "labelOverlap": false
      }
    }
  },
  "layer": [
    {
      "transform": [{"filter": "datum.series === 'ALUMIL'"}],
      "mark": {"type": "line", "strokeWidth": 3, "clip": true},
      "encoding": {
        "color": {
          "field": "series", "type": "nominal",
          "scale": {"domain": ["ALUMIL", "ETEM", "ALCO"], "range": ["#FFFF00", "#0000FF", "#FF0000"]},
          "legend": {
            "title": null, "orient": "none", "legendX": 274, "legendY": -82, "direction": "horizontal",
            "symbolType": "stroke", "symbolSize": 1444, "symbolStrokeWidth": 3.5,
            "labelFontSize": 17, "labelColor": "black", "labelOffset": 4, "columnPadding": 12,
            "padding": 5, "strokeColor": "black", "fillColor": "white"
          }
        }
      }
    },
    {
      "transform": [{"filter": "datum.series === 'ETEM'"}],
      "mark": {"type": "line", "strokeWidth": 3, "clip": true},
      "encoding": {"color": {"field": "series", "type": "nominal"}}
    },
    {
      "transform": [{"filter": "datum.series === 'ALCO'"}],
      "mark": {"type": "line", "strokeWidth": 3, "clip": true},
      "encoding": {"color": {"field": "series", "type": "nominal"}}
    }
  ]
}
